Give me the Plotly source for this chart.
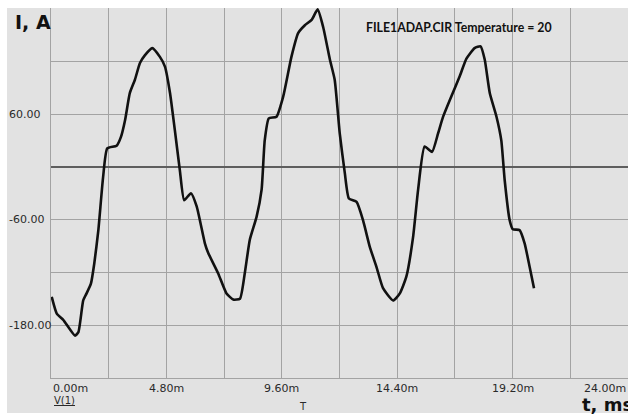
import plotly.graph_objects as go

# time, ms
t_ms = [0.03, 0.24, 0.51, 1.00, 1.14, 1.34, 1.48, 1.66, 1.80, 1.97, 2.17, 2.34, 2.73, 2.91,
        3.08, 3.28, 3.49, 3.70, 3.91, 4.21, 4.53, 4.74, 4.95, 5.15, 5.36, 5.54, 5.82, 6.06,
        6.40, 6.54, 6.95, 7.30, 7.58, 7.86, 8.06, 8.27, 8.55, 8.76, 8.89, 9.06, 9.38, 9.66,
        10.00, 10.28, 10.56, 10.84, 11.09, 11.32, 11.60, 11.80, 12.01, 12.22, 12.39, 12.71,
        12.98, 13.26, 13.54, 13.81, 14.23, 14.51, 14.78, 15.06, 15.27, 15.54, 15.85, 16.10,
        16.31, 16.65, 17.00, 17.28, 17.62, 17.87, 18.04, 18.25, 18.53, 18.73, 18.87, 19.08,
        19.21, 19.49, 19.70, 19.91, 20.09]
# current, A
i_amp = [-148, -167, -174, -192, -188, -152, -144, -133, -110, -72, -11, 21, 24, 34,
         53, 84, 99, 118, 127, 135, 125, 114, 84, 42, -4, -38, -30, -45,
         -87, -98, -121, -144, -151, -150, -121, -83, -57, -26, 30, 55, 57, 80,
         125, 152, 161, 167, 179, 159, 122, 99, 38, -7, -36, -40,
         -61, -91, -114, -138, -152, -144, -125, -80, -26, 23, 17, 38,
         57, 80, 103, 123, 135, 137, 122, 84, 57, 30, -15, -61,
         -71, -72, -87, -114, -138]

x_tick_vals = [0, 4.8, 9.6, 14.4, 19.2, 24]
x_tick_text = ["0.00m", "4.80m", "9.60m", "14.40m", "19.20m", "24.00m"]
y_tick_vals = [60, -60, -180]
y_tick_text = ["60.00", "-60.00", "-180.00"]

W, H = 628, 414
L, R, T, B = 51, 0, 8, 36
pw, ph = W - L - R, H - T - B

def px(x):
    return (x - L) / pw

def py(y):
    return (H - B - y) / ph

GRID = "#a3a3a3"
BG = "#e2e2e2"
TXT = "#2a2a2a"
FONT = "DejaVu Sans"

fig = go.Figure()
fig.add_trace(go.Scatter(x=t_ms, y=i_amp, mode="lines",
                         line=dict(color="#111111", width=2.6, shape="spline", smoothing=0.5),
                         showlegend=False, hoverinfo="skip"))

anns = []
for v, s in zip(y_tick_vals, y_tick_text):
    anns.append(dict(x=px(7), xref="paper", y=v, yref="y", text=s, showarrow=False,
                     xanchor="left", yanchor="middle", font=dict(family=FONT, size=11, color=TXT)))
for v, s in zip(x_tick_vals, x_tick_text):
    xa = "left" if v == x_tick_vals[0] else ("right" if v == x_tick_vals[-1] else "center")
    anns.append(dict(x=v, xref="x", y=py(388), yref="paper", text=s, showarrow=False,
                     xanchor=xa, yanchor="middle", font=dict(family=FONT, size=11, color=TXT)))
anns += [
    dict(x=px(13), xref="paper", y=py(22), yref="paper", text="<b>I, A</b>", showarrow=False,
         xanchor="left", yanchor="middle", font=dict(family=FONT, size=19, color="#111")),
    dict(x=px(580), xref="paper", y=py(405), yref="paper", text="<b>t, ms</b>", showarrow=False,
         xanchor="left", yanchor="middle", font=dict(family=FONT, size=18, color="#111")),
    dict(x=px(52), xref="paper", y=py(400), yref="paper", text="<u>V(1)</u>", showarrow=False,
         xanchor="left", yanchor="middle", font=dict(family=FONT, size=10, color=TXT)),
    dict(x=px(303), xref="paper", y=py(406), yref="paper", text="T", showarrow=False,
         xanchor="center", yanchor="middle", font=dict(family=FONT, size=10, color=TXT)),
    dict(x=px(459), xref="paper", y=py(27), yref="paper", text="<b>FILE1ADAP.CIR Temperature = 20</b>",
         showarrow=False, xanchor="center", yanchor="middle",
         font=dict(family="Lato", size=12.3, color="#111")),
]

fig.update_layout(
    width=W, height=H,
    margin=dict(l=L, r=R, t=T, b=B, pad=0),
    paper_bgcolor="white",
    plot_bgcolor="rgba(0,0,0,0)",
    annotations=anns,
    shapes=[dict(type="rect", xref="paper", yref="paper", x0=px(7), x1=px(W + 5),
                 y0=py(413), y1=py(T), fillcolor=BG, line=dict(width=0), layer="below")],
    xaxis=dict(range=[0, 24], dtick=2.4, tick0=0, showgrid=True, gridcolor=GRID, gridwidth=1,
               showticklabels=False, zeroline=False, showline=True, linecolor=GRID, linewidth=1,
               mirror=False, ticks="", fixedrange=True),
    yaxis=dict(range=[-240.2, 180.6], dtick=60, tick0=0, showgrid=True, gridcolor=GRID, gridwidth=1,
               showticklabels=False, zeroline=True, zerolinecolor="#5e5e5e", zerolinewidth=2,
               showline=True, linecolor=GRID, linewidth=1, mirror=True, ticks="", fixedrange=True),
)

fig.write_html("out.html", config={"displayModeBar": False, "staticPlot": True},
               post_script="document.body.style.margin='0';document.body.style.overflow='hidden';")
